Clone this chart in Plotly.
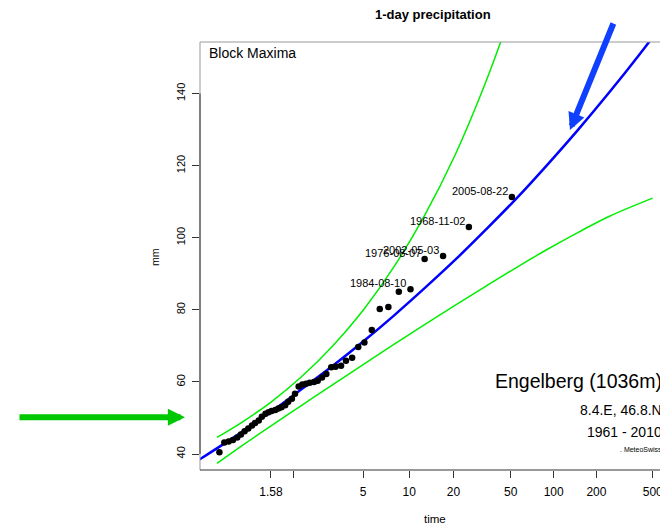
import numpy as np
import plotly.graph_objects as go

# return periods on the Gumbel axis
ret_period_ticks = [1.58, 2, 5, 10, 20, 50, 100, 200, 500]
ret_period_labels = ['1.58', '', '5', '10', '20', '50', '100', '200', '500']
mm_ticks = [40, 60, 80, 100, 120, 140]

# annual maxima (x in Gumbel reduced variate)
obs_x = [-0.84, -0.76, -0.69, -0.62, -0.55, -0.49, -0.43, -0.37, -0.31, -0.26,
         -0.20, -0.15, -0.09, -0.04, 0.01, 0.07, 0.12, 0.17, 0.23, 0.28,
         0.34, 0.39, 0.45, 0.51, 0.57, 0.63, 0.70, 0.76, 0.83, 0.90,
         0.98, 1.05, 1.14, 1.22, 1.32, 1.42, 1.52, 1.64, 1.77, 1.91,
         2.08, 2.27, 2.50, 2.80, 3.22, 3.92]
obs_mm = [40.5, 43.2, 43.5, 43.9, 44.6, 45.4, 46.3, 47.1, 47.9, 48.6,
          49.3, 50.3, 51.2, 51.6, 51.9, 52.2, 52.6, 53.0, 53.5, 54.5,
          55.3, 56.7, 58.7, 59.3, 59.5, 59.8, 60.0, 60.3, 61.2, 62.2,
          64.1, 64.2, 64.5, 65.9, 66.7, 69.7, 70.9, 74.4, 80.2, 80.8,
          85.0, 85.7, 94.1, 94.9, 103.0, 111.3]

# dates of the five largest events
event_dates = ['1984-08-10', '1976-08-07', '2002-05-03', '1968-11-02', '2005-08-22']

# fitted return level curve
fit_x = [-1.2, -0.5, 0.0, 0.5, 1.0, 1.5, 2.0, 2.5, 3.0, 3.5, 4.0, 4.5, 5.0, 5.5, 6.0, 6.4]
fit_mm = [38.1, 45.8, 51.7, 58.0, 64.4, 71.2, 78.4, 86.0, 93.9, 102.3, 111.0, 120.3,
          130.0, 140.2, 150.9, 159.9]

# confidence band
ci_hi_x = [-0.88, -0.5, 0.0, 0.5, 1.0, 1.5, 2.0, 2.5, 3.0, 3.5, 3.9]
ci_hi_mm = [44.6, 48.5, 54.4, 61.5, 69.9, 79.9, 91.9, 106.2, 123.1, 143.4, 162.1]
ci_lo_x = [-0.88, -0.5, 0.0, 0.5, 1.0, 1.5, 2.0, 2.5, 3.0, 3.5, 4.0, 4.5, 5.0, 5.5, 6.21]
ci_lo_mm = [37.4, 42.0, 47.8, 53.5, 59.2, 64.8, 70.4, 75.9, 81.3, 86.6, 91.8, 96.8,
            101.5, 105.9, 111.0]

FONT = 'Liberation Sans, Arial, sans-serif'
tick_x = -np.log(-np.log(1 - 1 / np.array(ret_period_ticks)))

fig = go.Figure()
fig.add_trace(go.Scatter(x=ci_hi_x, y=ci_hi_mm, mode='lines', line=dict(color='#00ee00', width=1.5, shape='spline')))
fig.add_trace(go.Scatter(x=ci_lo_x, y=ci_lo_mm, mode='lines', line=dict(color='#00ee00', width=1.5, shape='spline')))
fig.add_trace(go.Scatter(x=fit_x, y=fit_mm, mode='lines', line=dict(color='#0000ff', width=2.5, shape='spline')))
fig.add_trace(go.Scatter(x=obs_x, y=obs_mm, mode='markers', marker=dict(color='black', size=6.5)))

annotations = []
for d, xx, yy in zip(event_dates, obs_x[-5:], obs_mm[-5:]):
    annotations.append(dict(x=xx, y=yy, xref='x', yref='y', text=d, showarrow=False,
                            xanchor='right', yanchor='middle', xshift=-2, yshift=6,
                            font=dict(size=11, color='black', family=FONT)))

def txt(x, y, s, size, anchor='center', bold=False, angle=0):
    if bold:
        s = '<b>' + s + '</b>'
    return dict(x=x, y=y, xref='paper', yref='paper', text=s, showarrow=False,
                xanchor=anchor, yanchor='middle', textangle=angle,
                font=dict(size=size, color='black', family=FONT))

annotations += [
    txt(0.5065, 1.0638, '1-day precipitation', 13, bold=True),
    txt(0.0152, 0.9736, 'Block Maxima', 14, anchor='left'),
    txt(-0.0978, 0.4977, 'mm', 10.5, angle=-90),
    txt(0.5109, -0.1145, 'time', 11.5),
    txt(1.0087, 0.2086, 'Engelberg (1036m)', 19.5, anchor='right'),
    txt(1.0087, 0.1402, '8.4.E, 46.8.N', 14, anchor='right'),
    txt(1.0087, 0.0895, '1961 - 2010', 14, anchor='right'),
    txt(1.0087, 0.0484, '. MeteoSwiss', 7, anchor='right'),
]
# pointer arrows
annotations.append(dict(x=-0.0326, y=0.1231, xref='paper', yref='paper', text='', showarrow=True,
                        ax=-167, ay=0, arrowhead=2, arrowsize=0.57, arrowwidth=6, arrowcolor='#00c800'))
annotations.append(dict(x=0.8043, y=0.7944, xref='paper', yref='paper', text='', showarrow=True,
                        ax=44, ay=-108, arrowhead=2, arrowsize=0.57, arrowwidth=6, arrowcolor='#1040ff'))

shapes = [
    dict(type='line', xref='paper', yref='paper', x0=0, x1=1, y0=1, y1=1, line=dict(color='#999999', width=1)),
    dict(type='line', xref='paper', yref='paper', x0=0, x1=0, y0=0, y1=1, line=dict(color='#999999', width=1)),
    dict(type='line', xref='paper', yref='paper', x0=0, x1=1, y0=0, y1=0, line=dict(color='#333333', width=1)),
    dict(type='line', xref='paper', yref='y', x0=0, x1=0, y0=mm_ticks[0], y1=mm_ticks[-1], line=dict(color='#333333', width=1)),
]

fig.update_layout(width=660, height=525, showlegend=False, plot_bgcolor='white', paper_bgcolor='white',
                  margin=dict(l=200, r=0, t=42, b=55), annotations=annotations, shapes=shapes,
                  font=dict(family=FONT, color='black'))
fig.update_xaxes(range=[-1.156, 6.331], tickvals=tick_x, ticktext=ret_period_labels,
                 ticks='outside', ticklen=7, tickcolor='#333333', showgrid=False, zeroline=False,
                 showline=False, tickfont=dict(size=12, family=FONT), ticklabelstandoff=4,
                 ticklabeloverflow='allow', automargin=False)
fig.update_yaxes(range=[35.56, 154.3], tickvals=mm_ticks, tickangle=-90,
                 ticks='outside', ticklen=7, tickcolor='#333333', showgrid=False, zeroline=False,
                 showline=False, tickfont=dict(size=11, family=FONT), ticklabelstandoff=3,
                 automargin=False)

# page has a default body margin; remove it so the figure fills the window
fig.write_html("out.html", config={'displayModeBar': False},
               post_script="document.body.style.margin='0px';document.body.style.overflow='hidden';")
